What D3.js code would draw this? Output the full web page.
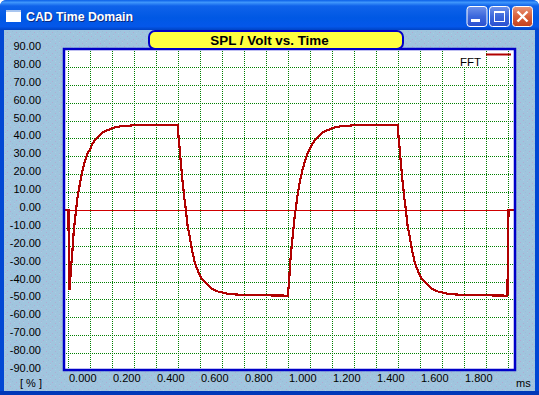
<!DOCTYPE html>
<html>
<head>
<meta charset="utf-8">
<title>CAD Time Domain</title>
<script src="https://cdn.jsdelivr.net/npm/d3@7"></script>
<style>
  html, body { margin: 0; padding: 0; background: #fff; overflow: hidden; }
  svg { display: block; font-family: "Liberation Sans", sans-serif; }
</style>
</head>
<body>
<div id="container"></div>
<script>
const chartTitle = "SPL / Volt vs. Time";
const windowTitle = "CAD Time Domain";
const seriesName = "FFT";

const yLabels = [90, 80, 70, 60, 50, 40, 30, 20, 10, 0, -10, -20, -30, -40, -50, -60, -70, -80, -90];
const yGrid = [80, 70, 60, 50, 40, 30, 20, 10, -10, -20, -30, -40, -50, -60, -70, -80];
const xLabels = [0, 0.2, 0.4, 0.6, 0.8, 1, 1.2, 1.4, 1.6, 1.8];
const xGrid = [0, 0.1, 0.2, 0.3, 0.4, 0.5, 0.6, 0.7, 0.8, 0.9, 1, 1.1, 1.2, 1.3, 1.4, 1.5, 1.6, 1.7, 1.8, 1.9, 2];

// ms
const timeMs = [
  -0.016, 0, 0.002, 0.005, 0.011, 0.017, 0.023, 0.029, 0.035, 0.04, 0.049, 0.056, 0.065, 0.076, 0.086, 0.099,
  0.109, 0.129, 0.152, 0.175, 0.206, 0.235, 0.292, 0.494,
  0.497, 0.5, 0.506, 0.511, 0.518, 0.526, 0.534, 0.541, 0.55, 0.558, 0.565, 0.576, 0.591, 0.606, 0.629, 0.652,
  0.682, 0.727, 0.788, 0.993,
  0.997, 1.003, 1.007, 1.014, 1.02, 1.026, 1.034, 1.041, 1.05, 1.056, 1.065, 1.076, 1.086, 1.099,
  1.109, 1.129, 1.152, 1.175, 1.206, 1.235, 1.292, 1.494,
  1.497, 1.5, 1.506, 1.511, 1.518, 1.526, 1.534, 1.541, 1.55, 1.558, 1.565, 1.576, 1.591, 1.606, 1.629, 1.652,
  1.682, 1.727, 1.788, 1.995,
  2, 2.03
];
const percent = [
  0.4, 0.4, -44, -44, -32.7, -24.3, -13, -5.6, 0.9, 6.5, 13, 17.7, 23.3, 28, 31.7, 34.5,
  37.3, 40.7, 43.3, 44.8, 46.3, 47, 47.6, 47.8,
  47.8, 41, 33.6, 26.1, 16.8, 7.4, 0, -8.4, -14, -19.6, -24.3, -29.9, -34.5, -38.3, -41, -43.9,
  -45.4, -46.6, -47.2, -47.6,
  -47.6, -39.2, -29.9, -20.5, -13, -5.6, 1.9, 8.4, 14.9, 18.5, 23.5, 28, 31.7, 34.8,
  37.3, 40.7, 43.3, 44.8, 46.3, 47, 47.6, 47.8,
  47.8, 41, 33.6, 26.1, 16.8, 7.4, 0, -8.4, -14, -19.6, -24.3, -29.9, -34.5, -38.3, -41, -43.9,
  -45.4, -46.6, -47.2, -47.6,
  0.4, 0.4
];

const width = 539;
const height = 395;
const plotLeft = 64;
const plotRight = 515;
const plotTop = 49;
const plotBottom = 370;

const svg = d3.select("#container")
  .append("svg")
  .attr("width", width)
  .attr("height", height)
  .attr("viewBox", [0, 0, width, height]);

const defs = svg.append("defs");

function gradient(id, stops) {
  const g = defs.append("linearGradient").attr("id", id)
    .attr("x1", 0).attr("y1", 0).attr("x2", 0).attr("y2", 1);
  stops.forEach(([o, c]) => g.append("stop").attr("offset", o).attr("stop-color", c));
}
gradient("titlebar", [[0, "#0a5fe8"], [0.08, "#3f96fb"], [0.2, "#0f62ea"], [0.6, "#0058e4"], [0.88, "#0457ea"], [1, "#0043c4"]]);
gradient("btnBlue", [[0, "#6f92ea"], [0.5, "#3c68dc"], [1, "#2a4fd0"]]);
gradient("btnRed", [[0, "#e8977c"], [0.5, "#d9603a"], [1, "#c2401f"]]);

// speckled client area
const speckle = defs.append("pattern").attr("id", "speckle")
  .attr("width", 9).attr("height", 7).attr("patternUnits", "userSpaceOnUse");
speckle.append("rect").attr("width", 9).attr("height", 7).attr("fill", "#a0c5de");
[[1, 1, "#b3a9d2"], [5, 0, "#abcbe4"], [3, 3, "#9dbcd8"], [7, 4, "#b3a9d2"], [1, 5, "#abcbe4"], [5, 6, "#a8b6d6"]]
  .forEach(([px, py, c]) => speckle.append("rect")
    .attr("x", px).attr("y", py).attr("width", 1).attr("height", 1).attr("fill", c));

// window chrome
svg.append("path")
  .attr("d", `M0,${height}V7Q0,0 7,0H${width - 7}Q${width},0 ${width},7V${height}Z`)
  .attr("fill", "#0048d4");
svg.append("path")
  .attr("d", `M0,30V7Q0,0 7,0H${width - 7}Q${width},0 ${width},7V30Z`)
  .attr("fill", "url(#titlebar)");
svg.append("rect")
  .attr("x", 4).attr("y", 30).attr("width", 531).attr("height", 361)
  .attr("fill", "url(#speckle)");
svg.append("rect").attr("x", 0).attr("y", 391).attr("width", width).attr("height", 4).attr("fill", "#0038b8");

// window icon and caption
svg.append("rect").attr("x", 6).attr("y", 10).attr("width", 15).attr("height", 12).attr("fill", "#fff");
svg.append("rect").attr("x", 6).attr("y", 10).attr("width", 15).attr("height", 2).attr("fill", "#a9c6f0");
svg.append("text").attr("x", 27).attr("y", 22).attr("font-size", 12.3).attr("font-weight", "bold")
  .attr("fill", "#0a2a80").text(windowTitle);
svg.append("text").attr("x", 26).attr("y", 21).attr("font-size", 12.3).attr("font-weight", "bold")
  .attr("fill", "#fff").text(windowTitle);

// caption buttons
[[467, "url(#btnBlue)"], [489.5, "url(#btnBlue)"], [512.5, "url(#btnRed)"]].forEach(([bx, fill]) => {
  svg.append("rect").attr("x", bx).attr("y", 6.5).attr("width", 20).attr("height", 20).attr("rx", 3)
    .attr("fill", fill).attr("stroke", "#fff");
});
svg.append("rect").attr("x", 471).attr("y", 19).attr("width", 9).attr("height", 3).attr("fill", "#fff");
svg.append("rect").attr("x", 494.5).attr("y", 12.5).attr("width", 10).attr("height", 9)
  .attr("fill", "none").attr("stroke", "#fff");
svg.append("rect").attr("x", 494).attr("y", 11).attr("width", 11).attr("height", 2).attr("fill", "#fff");
svg.append("path").attr("d", "M517.5,11.5L527.5,21.5M527.5,11.5L517.5,21.5")
  .attr("stroke", "#fff").attr("stroke-width", 2.4);

// plot area
svg.append("rect")
  .attr("x", plotLeft).attr("y", plotTop)
  .attr("width", plotRight - plotLeft).attr("height", plotBottom - plotTop)
  .attr("fill", "#fff");

const x = d3.scaleLinear([0, 2], [68.5, 508.5]);
const y = d3.scaleLinear([-90, 90], [371.5, 49.5]);

// grid
svg.append("g")
  .attr("transform", `translate(${plotLeft},0)`)
  .call(d3.axisLeft(y).offset(0).tickValues(yGrid).tickSize(plotLeft - plotRight).tickFormat(""))
  .call(g => g.select(".domain").remove())
  .call(g => g.selectAll(".tick line")
    .attr("stroke", "#008000").attr("stroke-dasharray", "1,1").attr("shape-rendering", "crispEdges"));

svg.append("g")
  .attr("transform", `translate(0,${plotBottom})`)
  .call(d3.axisBottom(x).offset(0).tickValues(xGrid).tickSize(plotTop - plotBottom).tickFormat(""))
  .call(g => g.select(".domain").remove())
  .call(g => g.selectAll(".tick line")
    .attr("stroke", "#008000").attr("stroke-dasharray", "1,1").attr("shape-rendering", "crispEdges"));

// zero line
svg.append("line")
  .attr("x1", plotLeft).attr("x2", plotRight)
  .attr("y1", y(0)).attr("y2", y(0))
  .attr("stroke", "#d00000").attr("stroke-width", 1)
  .attr("shape-rendering", "crispEdges");

// legend
svg.append("rect").attr("x", 458).attr("y", 50).attr("width", 23).attr("height", 17).attr("fill", "#fff");
svg.append("text").attr("x", 460).attr("y", 66).attr("font-size", 11.5).attr("fill", "#000").text(seriesName);
svg.append("line").attr("x1", 486).attr("x2", 511).attr("y1", 54.5).attr("y2", 54.5)
  .attr("stroke", "#b00000").attr("stroke-width", 2);

// trace
const line = d3.line()
  .x(d => x(d))
  .y((d, i) => y(percent[i]));

svg.append("path")
  .attr("fill", "none")
  .attr("stroke", "#b00000")
  .attr("stroke-width", 2.2)
  .attr("shape-rendering", "crispEdges")
  .attr("d", line(timeMs));

// frame
svg.append("rect")
  .attr("x", plotLeft).attr("y", plotTop)
  .attr("width", plotRight - plotLeft).attr("height", plotBottom - plotTop)
  .attr("fill", "none").attr("stroke", "#0000c8").attr("stroke-width", 2.5);

// title pill
svg.append("rect")
  .attr("x", 149).attr("y", 31).attr("width", 254).attr("height", 18).attr("rx", 6)
  .attr("fill", "#ffff40").attr("stroke", "#0000c8").attr("stroke-width", 2);
svg.append("text").attr("x", 269.5).attr("y", 45).attr("text-anchor", "middle")
  .attr("font-size", 13.4).attr("font-weight", "bold").attr("fill", "#000").text(chartTitle);

// axis labels sit above and to the right of their grid lines
svg.append("g")
  .attr("transform", "translate(41,-3.5)")
  .call(d3.axisLeft(y).tickValues(yLabels).tickSize(0).tickPadding(0).tickFormat(d => d.toFixed(2)))
  .call(g => g.select(".domain").remove())
  .call(g => g.selectAll("text").attr("font-size", 11).attr("font-family", "Liberation Sans").attr("fill", "#000"));

svg.append("g")
  .attr("transform", "translate(0,374)")
  .call(d3.axisBottom(x).tickValues(xLabels).tickSize(0).tickPadding(0).tickFormat(d => d.toFixed(3)))
  .call(g => g.select(".domain").remove())
  .call(g => g.selectAll("text")
    .attr("text-anchor", "start").attr("font-size", 11)
    .attr("font-family", "Liberation Sans").attr("fill", "#000"));

svg.append("text").attr("x", 20).attr("y", 387).attr("font-size", 11).attr("fill", "#000").text("[ % ]");
svg.append("text").attr("x", 516).attr("y", 387).attr("font-size", 11).attr("fill", "#000").text("ms");
</script>
</body>
</html>
